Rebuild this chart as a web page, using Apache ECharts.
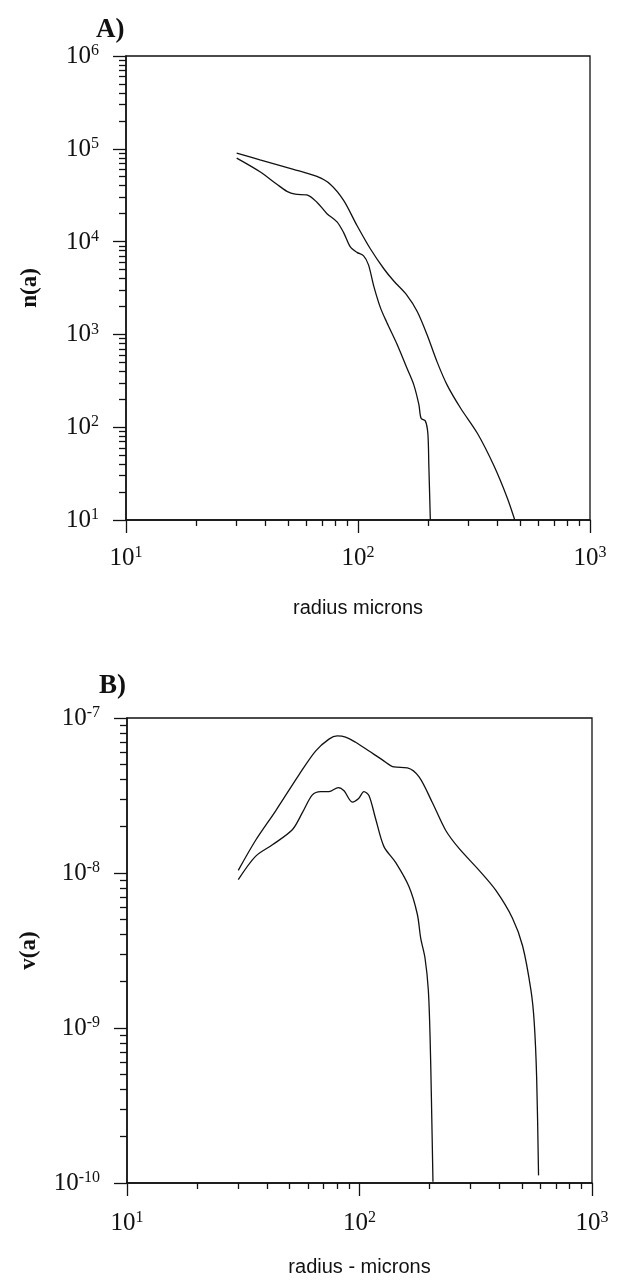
<!DOCTYPE html>
<html>
<head>
<meta charset="utf-8">
<script src="https://cdn.jsdelivr.net/npm/echarts@6/dist/echarts.min.js"></script>
<style>
html,body{margin:0;padding:0;background:#fff;}
#chart{width:621px;height:1283px;}
</style>
</head>
<body>
<div id="chart"></div>
<script>
// ---- Tick values ----
const xTicks = [10, 100, 1000];
const xMinorTicks = [20, 30, 40, 50, 60, 70, 80, 90, 200, 300, 400, 500, 600, 700, 800, 900];
const yTicksA = [1e1, 1e2, 1e3, 1e4, 1e5, 1e6];
const yMinorTicksA = [2e1,3e1,4e1,5e1,6e1,7e1,8e1,9e1, 2e2,3e2,4e2,5e2,6e2,7e2,8e2,9e2,
  2e3,3e3,4e3,5e3,6e3,7e3,8e3,9e3, 2e4,3e4,4e4,5e4,6e4,7e4,8e4,9e4, 2e5,3e5,4e5,5e5,6e5,7e5,8e5,9e5];
const yTicksB = [1e-10, 1e-9, 1e-8, 1e-7];
const yMinorTicksB = [2e-10,3e-10,4e-10,5e-10,6e-10,7e-10,8e-10,9e-10,
  2e-9,3e-9,4e-9,5e-9,6e-9,7e-9,8e-9,9e-9, 2e-8,3e-8,4e-8,5e-8,6e-8,7e-8,8e-8,9e-8];

// ---- Panel A: n(a) ----
const radiusA1 = [30.0, 37.8, 52.7, 66.5, 75.9, 86.7, 99, 113, 129, 142.6, 162.6, 180, 198.5, 219, 242, 277, 327, 385, 440, 474];
const nA1 = [90000, 75900, 60200, 50400, 41500, 27800, 14900, 8370, 5130, 3760, 2640, 1766, 991, 509, 286, 160, 86, 38.6, 17.3, 10];
const radiusA2 = [30.0, 37.8, 44.7, 49.4, 53.6, 60.2, 66.5, 73.5, 81.2, 86.7, 92.7, 99, 105.7, 111, 117, 125, 133, 147, 163, 174, 183, 187, 195, 200, 202, 205];
const nA2 = [79400, 56600, 41500, 34800, 32400, 31800, 26600, 20000, 16300, 12500, 8750, 7660, 7010, 5610, 3290, 1930, 1353, 794, 426, 286, 175, 125, 117, 86, 38.6, 10];

// ---- Panel B: v(a) ----
const radiusB1 = [30.1, 35.7, 43.6, 54.9, 64.7, 73.9, 80.2, 87.1, 96.2, 109.9, 125.4, 140.8, 160.7, 180.4, 205.9, 235, 268, 327, 386, 455, 503, 546, 564, 578, 589];
const vB1 = [1.04e-8, 1.62e-8, 2.52e-8, 4.30e-8, 6.12e-8, 7.31e-8, 7.66e-8, 7.53e-8, 6.97e-8, 6.12e-8, 5.37e-8, 4.83e-8, 4.77e-8, 4.17e-8, 2.84e-8, 1.88e-8, 1.44e-8, 1.04e-8, 7.72e-9, 5.11e-9, 3.38e-9, 1.76e-9, 1.10e-9, 4.80e-10, 1.12e-10];
const radiusB2 = [30.1, 35.7, 42.2, 51.4, 56.8, 62.7, 68.1, 73.9, 81.1, 85.8, 93.1, 98.9, 104.5, 109.9, 117.3, 127.4, 143, 163, 177.3, 183.3, 191.3, 197.7, 201.2, 203.8, 207];
const vB2 = [9.06e-9, 1.28e-8, 1.52e-8, 1.90e-8, 2.45e-8, 3.19e-8, 3.35e-8, 3.35e-8, 3.56e-8, 3.39e-8, 2.87e-8, 3.01e-8, 3.35e-8, 3.15e-8, 2.24e-8, 1.48e-8, 1.17e-8, 8.20e-9, 5.42e-9, 3.80e-9, 2.83e-9, 1.76e-9, 8.67e-10, 3.57e-10, 1.02e-10];

const pairs = (xs, ys) => xs.map((x, i) => [x, ys[i]]);

const serif = 'Liberation Serif';
const sans = 'Liberation Sans';
const supRich = {
  b: { fontFamily: serif, fontSize: 25, lineHeight: 26, color: '#111', verticalAlign: 'bottom' },
  s: { fontFamily: serif, fontSize: 16, lineHeight: 26, color: '#111', verticalAlign: 'top' }
};
function powLabel(v) {
  const e = Math.round(Math.log10(v));
  return '{b|10}{s|' + e + '}';
}

function majorX(gridIndex, min, max, name, nameGap, margin) {
  return {
    type: 'log', logBase: 10, gridIndex, min, max, position: 'bottom', offset: 0,
    name, nameLocation: 'middle', nameGap,
    nameTextStyle: { fontFamily: sans, fontSize: 20, color: '#111' },
    axisLine: { show: true, onZero: false, lineStyle: { color: '#111', width: 1.5 } },
    axisTick: { show: true, inside: false, length: 13, customValues: xTicks, lineStyle: { color: '#111', width: 1.3 } },
    minorTick: { show: false },
    axisLabel: { show: true, customValues: xTicks, margin, formatter: powLabel, rich: supRich },
    splitLine: { show: false }
  };
}
function minorX(gridIndex, min, max) {
  return {
    type: 'log', logBase: 10, gridIndex, min, max, position: 'bottom', offset: 0,
    axisLine: { show: false, onZero: false },
    axisTick: { show: true, inside: false, length: 6, customValues: xMinorTicks, lineStyle: { color: '#111', width: 1.3 } },
    axisLabel: { show: false },
    splitLine: { show: false }
  };
}
function majorY(gridIndex, min, max, ticks, name, nameGap, bold) {
  return {
    type: 'log', logBase: 10, gridIndex, min, max, position: 'left', offset: 0,
    name, nameLocation: 'middle', nameGap, nameRotate: 90,
    nameTextStyle: { fontFamily: serif, fontSize: 23, fontWeight: bold ? 'bold' : 'normal', color: '#111' },
    axisLine: { show: true, onZero: false, lineStyle: { color: '#111', width: 1.5 } },
    axisTick: { show: true, inside: false, length: 13, customValues: ticks, lineStyle: { color: '#111', width: 1.3 } },
    axisLabel: { show: true, customValues: ticks, margin: 27, formatter: powLabel, rich: supRich },
    splitLine: { show: false }
  };
}
function minorY(gridIndex, min, max, ticks) {
  return {
    type: 'log', logBase: 10, gridIndex, min, max, position: 'left', offset: 0,
    axisLine: { show: false, onZero: false },
    axisTick: { show: true, inside: false, length: 7, customValues: ticks, lineStyle: { color: '#111', width: 1.3 } },
    axisLabel: { show: false },
    splitLine: { show: false }
  };
}

const lineStyle = { color: '#111', width: 1.3 };
function curve(xi, yi, data) {
  return {
    type: 'line', xAxisIndex: xi, yAxisIndex: yi, data,
    showSymbol: false, symbol: 'none', smooth: 0.3,
    lineStyle, animation: false, silent: true
  };
}

const option = {
  animation: false,
  backgroundColor: '#fff',
  title: [
    { text: 'A)', left: 91, top: 12, textStyle: { fontFamily: serif, fontSize: 27, fontWeight: 'bold', color: '#111' } },
    { text: 'B)', left: 94, top: 668, textStyle: { fontFamily: serif, fontSize: 27, fontWeight: 'bold', color: '#111' } }
  ],
  grid: [
    { left: 126, top: 56, width: 464, height: 464, show: true, borderColor: '#111', borderWidth: 1.3, backgroundColor: 'transparent' },
    { left: 127, top: 718, width: 465, height: 465, show: true, borderColor: '#111', borderWidth: 1.3, backgroundColor: 'transparent' }
  ],
  xAxis: [
    majorX(0, 10, 1000, 'radius microns', 78, 25),
    minorX(0, 10, 1000),
    majorX(1, 10, 1000, 'radius - microns', 74, 27),
    minorX(1, 10, 1000)
  ],
  yAxis: [
    majorY(0, 1e1, 1e6, yTicksA, 'n(a)', 84, true),
    minorY(0, 1e1, 1e6, yMinorTicksA),
    majorY(1, 1e-10, 1e-7, yTicksB, 'v(a)', 86, true),
    minorY(1, 1e-10, 1e-7, yMinorTicksB)
  ],
  series: [
    curve(0, 0, pairs(radiusA1, nA1)),
    curve(0, 0, pairs(radiusA2, nA2)),
    curve(2, 2, pairs(radiusB1, vB1)),
    curve(2, 2, pairs(radiusB2, vB2))
  ]
};

const chart = echarts.init(document.getElementById('chart'), null, { renderer: 'canvas' });
chart.setOption(option);
</script>
</body>
</html>
